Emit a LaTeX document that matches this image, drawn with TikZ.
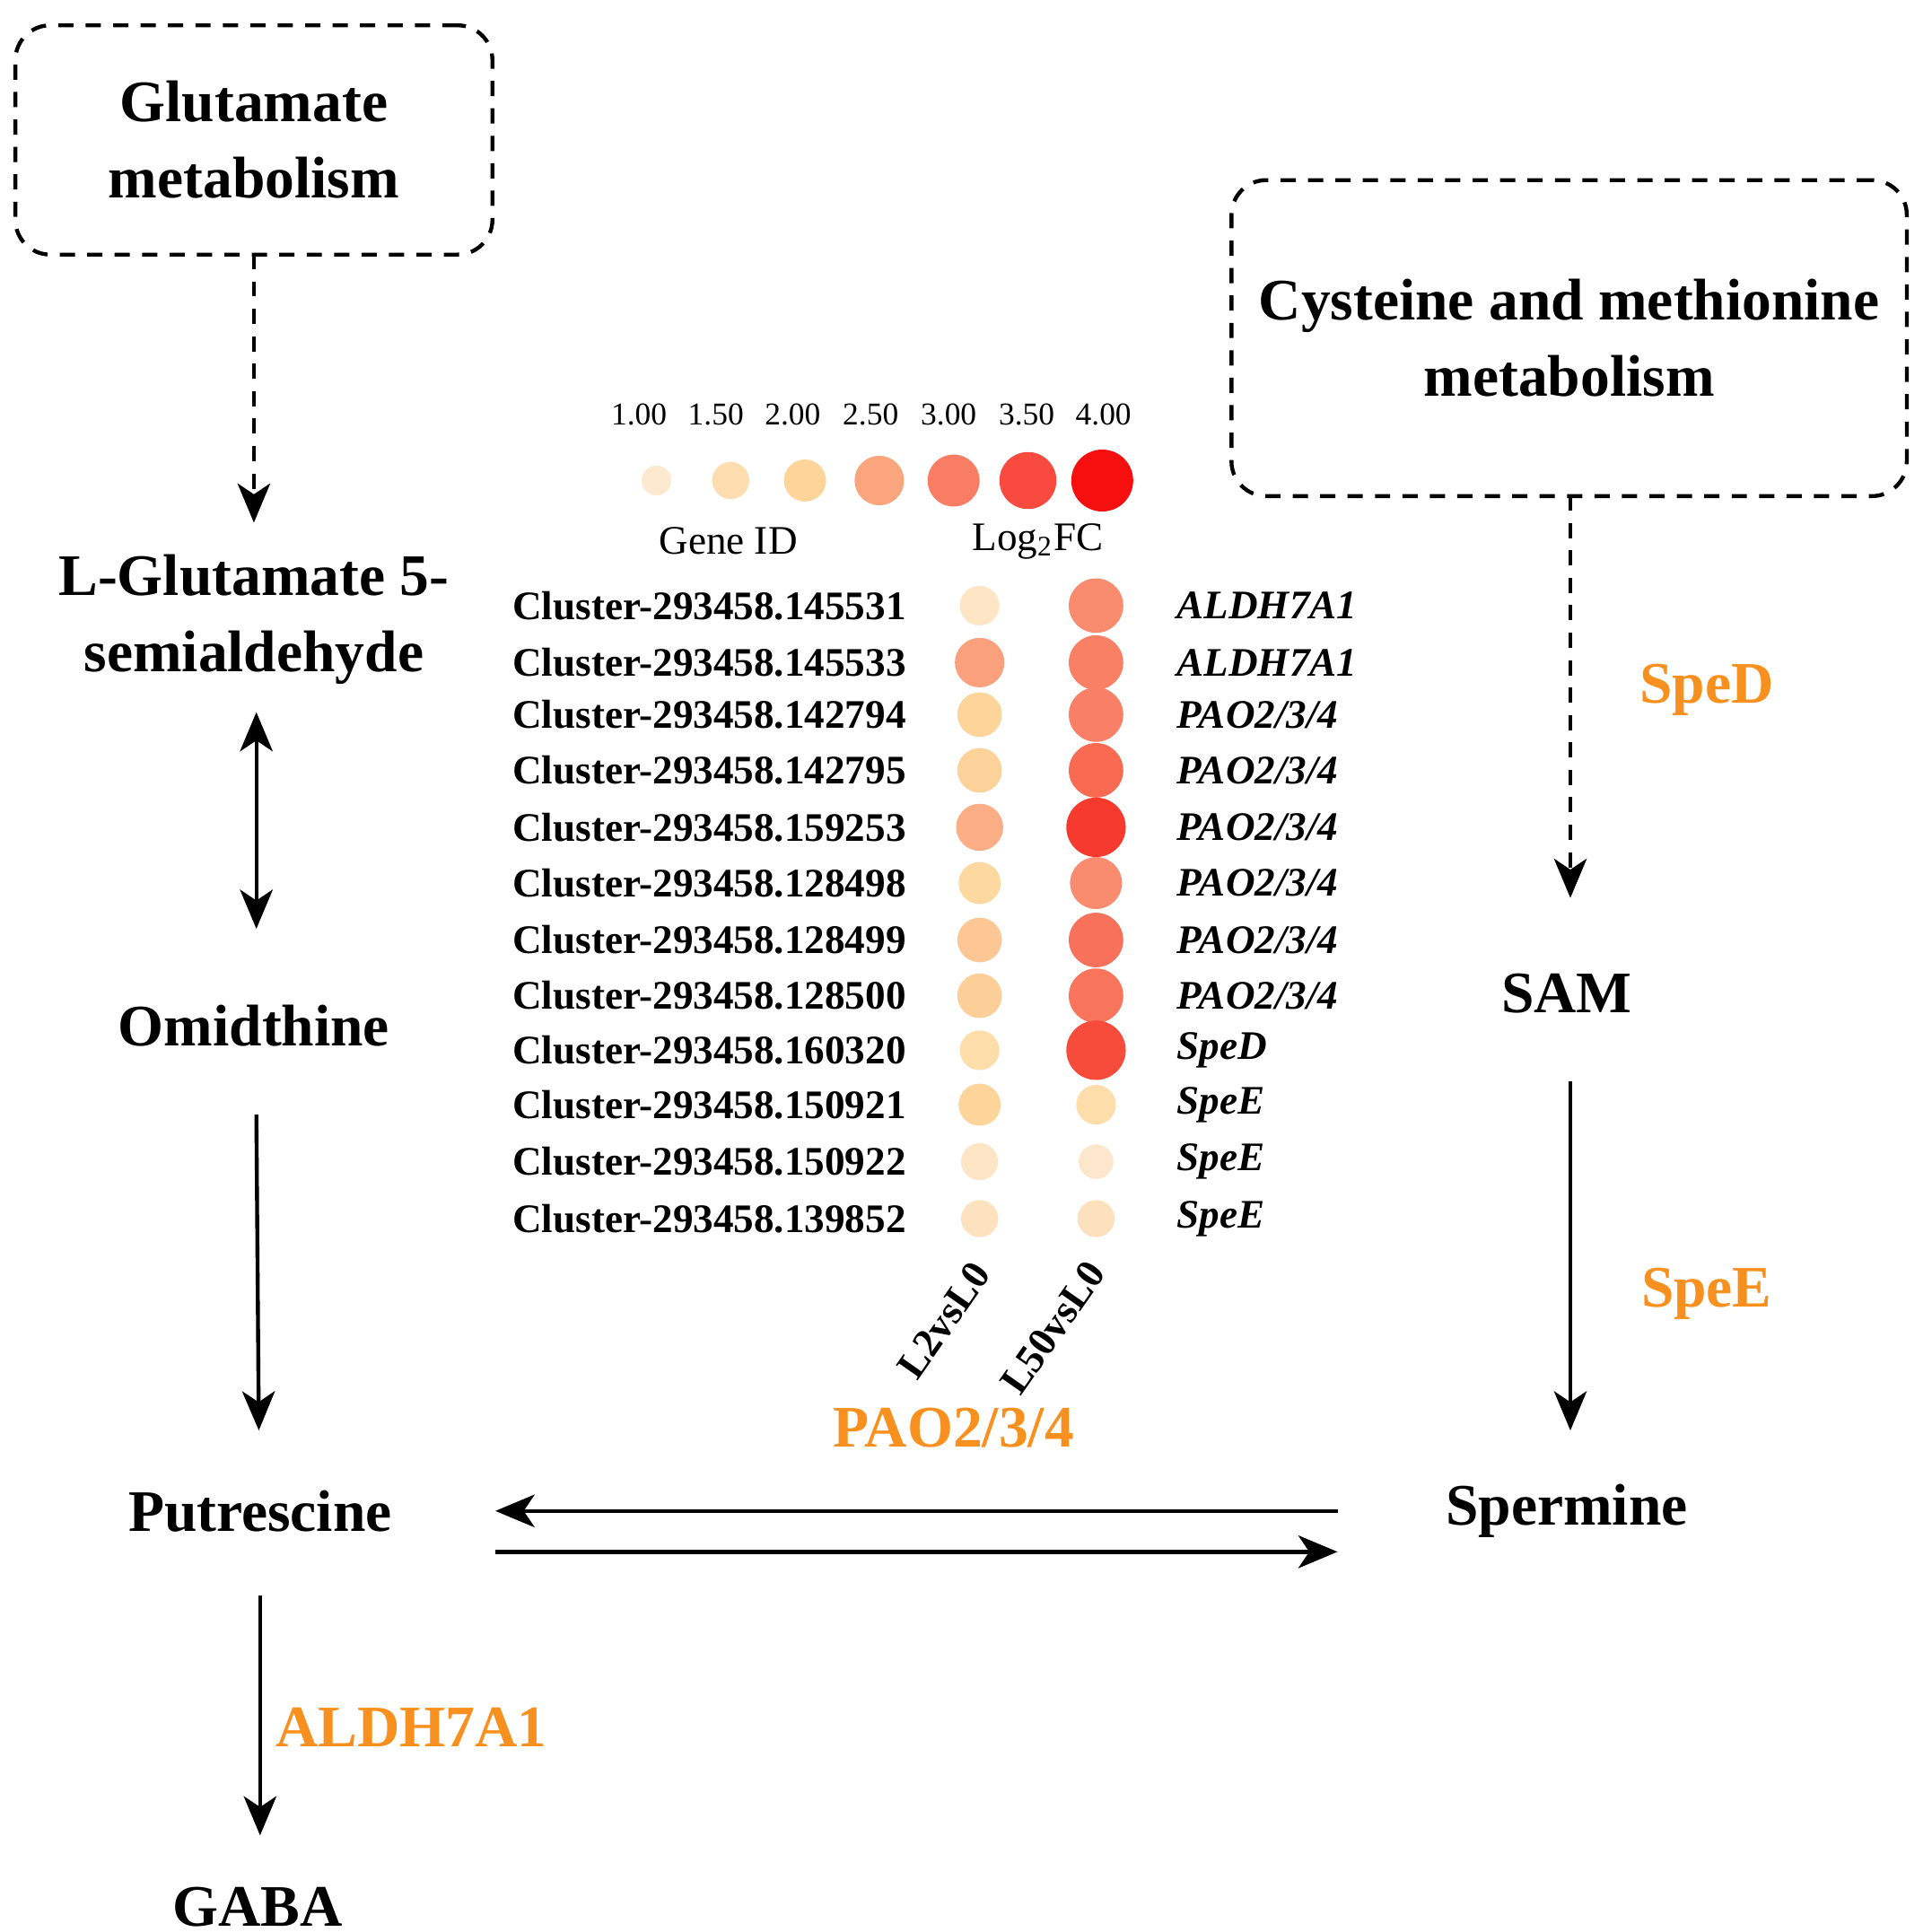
\documentclass[tikz,border=0pt]{standalone}
\usepackage{fontspec}
\setmainfont{Liberation Serif}
\usetikzlibrary{arrows.meta}
\definecolor{org}{HTML}{F7901E}
\begin{document}
\begin{tikzpicture}[x=0.01cm,y=-0.01cm,
  big/.style={font=\fontsize{13.5}{17.5}\selectfont\bfseries,align=center},
  olab/.style={font=\fontsize{13.5}{16}\selectfont\bfseries,text=org},
  dbox/.style={draw,dashed,line width=0.9pt,rounded corners=8pt,dash pattern=on 3.5pt off 2.8pt},
  arr/.style={line width=0.9pt,-{Stealth[length=9pt,width=7.5pt,inset=2.5pt]}},
  cl/.style={font=\fontsize{9.3}{11}\selectfont\bfseries,anchor=east},
  gn/.style={font=\fontsize{9.3}{11}\selectfont\bfseries\itshape,anchor=west},
  num/.style={font=\fontsize{7.3}{9}\selectfont}]
\useasboundingbox (0,0) rectangle (1560,1560);
\node[dbox,minimum width=3.85cm,minimum height=1.85cm,big] (glu) at (205,113) {Glutamate\\metabolism};
\node[dbox,minimum width=5.45cm,minimum height=2.55cm,big] (cys) at (1267,273) {Cysteine and methionine\\metabolism};
\node[big] (lg) at (205,500) {L-Glutamate 5-\\semialdehyde};
\node[big] (om) at (205,828) {Omidthine};
\node[big] (pu) at (210,1220) {Putrescine};
\node[big] (ga) at (208,1540) {GABA};
\node[big] (sam) at (1265,802) {SAM};
\node[big] (sp) at (1265,1220) {Spermine};
\coordinate (a1) at (205,205); \coordinate (a2) at (205,422);
\draw[arr,dashed,dash pattern=on 3.5pt off 2.8pt] (a1) -- (a2);
\coordinate (b1) at (207,575); \coordinate (b2) at (207,750);
\draw[line width=0.9pt,{Stealth[length=9pt,width=7.5pt,inset=2.5pt]}-{Stealth[length=9pt,width=7.5pt,inset=2.5pt]}] (b1) -- (b2);
\coordinate (c1) at (207,900); \coordinate (c2) at (209,1155);
\draw[arr] (c1) -- (c2);
\coordinate (d1) at (210,1288); \coordinate (d2) at (210,1482);
\draw[arr] (d1) -- (d2);
\coordinate (e1) at (1268,400); \coordinate (e2) at (1268,725);
\draw[arr,dashed,dash pattern=on 3.5pt off 2.8pt] (e1) -- (e2);
\coordinate (f1) at (1268,873); \coordinate (f2) at (1268,1155);
\draw[arr] (f1) -- (f2);
\coordinate (g1) at (1080,1220); \coordinate (g2) at (400,1220);
\draw[arr] (g1) -- (g2);
\coordinate (h1) at (400,1253); \coordinate (h2) at (1080,1253);
\draw[arr] (h1) -- (h2);
\node[olab] (l1) at (1378,557) {SpeD};
\node[olab] (l2) at (1378,1045) {SpeE};
\node[olab] (l3) at (770,1153) {PAO2/3/4};
\node[olab] (l4) at (332,1395) {ALDH7A1};
% legend
\foreach \x/\v/\r/\c [count=\i] in {516/1.00/12/FDE9CF,578/1.50/15/FDDDB0,640/2.00/17/FDD49A,703/2.50/20/FBA57E,766/3.00/21/F97D64,829/3.50/23/F84A3E,891/4.00/25/F50F0F}{
  \definecolor{lc}{HTML}{\c}
  \node[num] (n\i) at (\x,335) {\v};
}
\foreach \x/\r/\c in {530/12/FDE9CF,590/15/FDDDB0,650/17/FDD49A,710/20/FBA57E,770/21/F97D64,830/23/F84A3E,890/25/F50F0F}{
  \definecolor{lc}{HTML}{\c}
  \fill[lc] (\x,388) circle (\r);
}
\node[font=\fontsize{9.3}{11}\selectfont] (gid) at (588,437) {Gene ID};
\node[font=\fontsize{9.3}{11}\selectfont] (lfc) at (838,437) {Log\textsubscript{2}FC};
\foreach \y/\id/\g/\ra/\ca/\rb/\cb [count=\i] in {
489/145531/ALDH7A1/16/FDE5C6/22/F98C6E,
535/145533/ALDH7A1/20/FBA07C/22/F97F65,
577/142794/PAO2\slash 3\slash 4/18/FDD49A/22/F98066,
622/142795/PAO2\slash 3\slash 4/18/FDD19A/22/F86A52,
668/159253/PAO2\slash 3\slash 4/19/FBAE85/24/F63B2E,
713/128498/PAO2\slash 3\slash 4/17/FDD8A0/21/F98C6E,
759/128499/PAO2\slash 3\slash 4/18/FCC794/22/F8715A,
804/128500/PAO2\slash 3\slash 4/18/FCCE98/22/F8755C,
848/160320/SpeD/16/FDDDAA/24/F74B3C,
892/150921/SpeE/17/FDD49A/16/FDDDAA,
938/150922/SpeE/15/FDE5C6/14/FDE7CC,
984/139852/SpeE/15/FDE2C0/15/FDE0BC}{
  \definecolor{ca}{HTML}{\ca}\definecolor{cb}{HTML}{\cb}
  \node[cl] (c\i) at (744,\y) {Cluster-293458.\id};
  \fill[ca] (791,\y) circle (\ra);
  \fill[cb] (885,\y) circle (\rb);
  \node[gn] (g\i) at (938,\y) {\g};
}
\node[font=\fontsize{9.3}{11}\selectfont\bfseries,rotate=55] (s1) at (762,1066) {L2vsL0};
\node[font=\fontsize{9.3}{11}\selectfont\bfseries,rotate=55] (s2) at (850,1072) {L50vsL0};
\end{tikzpicture}
\end{document}
